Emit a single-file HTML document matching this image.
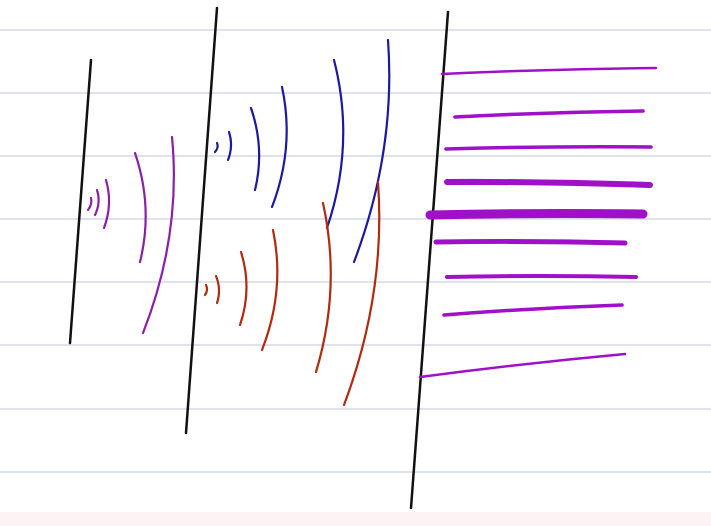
<!DOCTYPE html>
<html><head><meta charset="utf-8"><style>
html,body{margin:0;padding:0;background:#fff;width:711px;height:526px;overflow:hidden}
</style></head><body>
<svg id="s" width="711" height="526" viewBox="0 0 711 526">
<rect x="0" y="512" width="711" height="14" fill="#fdf2f4"/>
<g id="rules"></g>
<g fill="none" stroke="#111" stroke-width="2.5" stroke-linecap="round">
<path d="M91 60 L70 343"/>
<path d="M217 8 L186 433"/>
<path d="M448 12 L411 508"/>
</g>
<g id="waves" fill="none" stroke-linecap="round"></g>
</svg>
<script>
const ruleYs=[30,93,156,219,282,345,409,472];
// arcs: [xTop, yTop, xBottom, yBottom, bulge]
const purpleArcs=[[91,198,88,210,3],[97,190,95,215,5],[106,180,104,228,8],[135,153,140,262,16],[172,137,143,333,24]];
const blueArcs=[[217,143,215,152,3],[229,132,228,160,5],[251,108,255,190,12],[282,87,272,207,18],[334,60,327,228,25],[388,40,354,262,25]];
const redArcs=[[206,285,205,295,3],[216,276,217,303,5],[241,252,240,325,12],[273,230,262,350,18],[323,203,316,372,22],[378,182,344,405,25]];
// horizontal strokes: [x1,y1,x2,y2,width]
const strokes=[[442,74,656,68,2.5],[455,117,643,111,3.5],[446,149,651,147,3.5],[447,182,650,185,6],[430,215,643,214,9],[436,242,625,243,5],[447,277,636,277,4],[444,315,622,305,3.5],[420,377,625,354,2.5]];
const NS="http://www.w3.org/2000/svg";
const rules=document.getElementById('rules');
ruleYs.forEach(y=>{const l=document.createElementNS(NS,'line');
l.setAttribute('x1',0);l.setAttribute('x2',711);l.setAttribute('y1',y);l.setAttribute('y2',y);
l.setAttribute('stroke','#c9d1e0');l.setAttribute('stroke-width','1.2');


rules.appendChild(l);});
const w=document.getElementById('waves');
function arcs(list,color,name){list.forEach(a=>{const p=document.createElementNS(NS,'path');
const mx=(a[0]+a[2])/2+a[4],my=(a[1]+a[3])/2;
p.setAttribute('d',`M${a[0]} ${a[1]} Q${mx} ${my} ${a[2]} ${a[3]}`);
p.setAttribute('stroke',color);p.setAttribute('stroke-width','2.2');


w.appendChild(p);});}
arcs(purpleArcs,'#8a1fa8','purple-wave-arc');
arcs(blueArcs,'#1a1aa0','blue-wave-arc');
arcs(redArcs,'#b02a10','red-wave-arc');
strokes.forEach(s=>{const p=document.createElementNS(NS,'path');
const mx=(s[0]+s[2])/2,my=(s[1]+s[3])/2-2;
p.setAttribute('d',`M${s[0]} ${s[1]} Q${mx} ${my} ${s[2]} ${s[3]}`);
p.setAttribute('stroke','#a010c8');p.setAttribute('stroke-width',s[4]);


w.appendChild(p);});
</script>
</body></html>
